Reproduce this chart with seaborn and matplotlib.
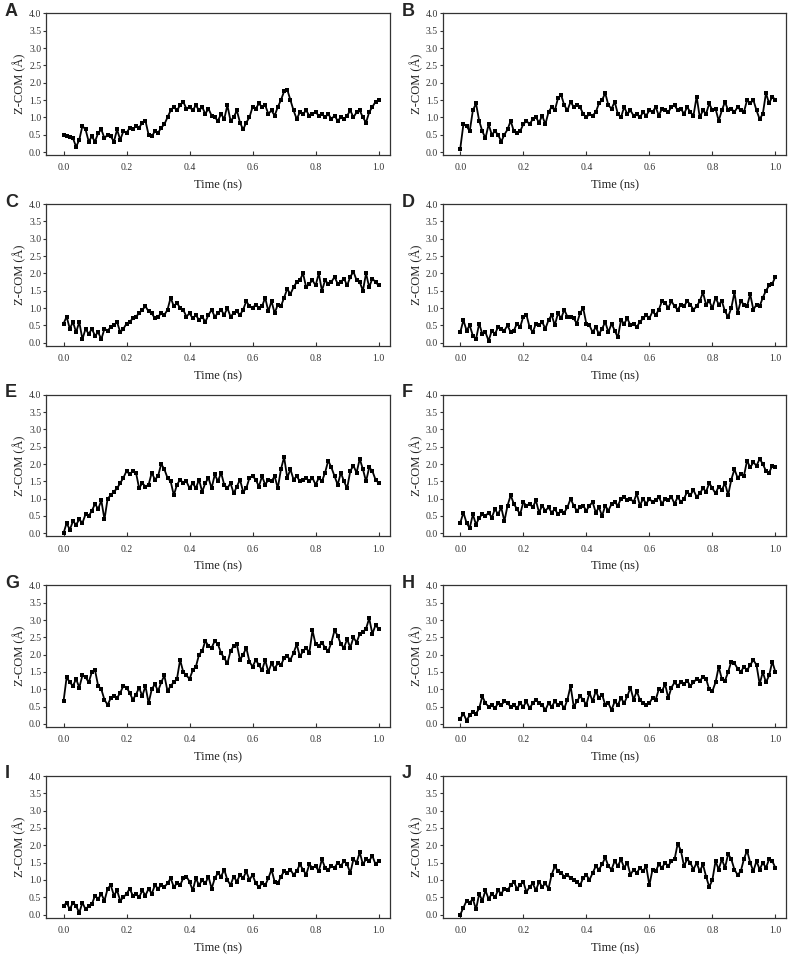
import numpy as np
import pandas as pd
import seaborn as sns
import matplotlib.pyplot as plt

# time grid (ns), one reading every 0.01 ns
time_ns = np.round(np.arange(101) * 0.01, 2)

# Z-COM values (Angstrom)
zcom_a = [0.5, 0.45, 0.42, 0.4, 0.15, 0.35, 0.75, 0.65, 0.3, 0.45,
          0.3, 0.55, 0.65, 0.4, 0.5, 0.45, 0.3, 0.65, 0.35, 0.6,
          0.55, 0.7, 0.65, 0.75, 0.7, 0.85, 0.9, 0.5, 0.45, 0.6,
          0.55, 0.7, 0.8, 1.0, 1.2, 1.3, 1.2, 1.35, 1.45, 1.25,
          1.3, 1.2, 1.35, 1.2, 1.3, 1.1, 1.25, 1.05, 1.0, 0.9,
          1.1, 0.95, 1.35, 0.9, 1.0, 1.2, 0.85, 0.65, 0.85, 1.0,
          1.3, 1.25, 1.4, 1.3, 1.35, 1.1, 1.2, 1.05, 1.3, 1.5,
          1.75, 1.8, 1.5, 1.2, 0.95, 1.15, 1.1, 1.2, 1.05, 1.1,
          1.15, 1.05, 1.1, 1.0, 1.1, 0.95, 1.05, 0.9, 1.0, 0.95,
          1.05, 1.2, 1.0, 1.15, 1.2, 1.0, 0.85, 1.15, 1.3, 1.45, 1.5]
zcom_b = [0.1, 0.8, 0.75, 0.6, 1.2, 1.4, 0.9, 0.6, 0.4, 0.8,
          0.5, 0.6, 0.5, 0.3, 0.5, 0.65, 0.9, 0.6, 0.55, 0.6,
          0.8, 0.9, 0.8, 0.95, 1.0, 0.85, 1.05, 0.8, 1.15, 1.3,
          1.2, 1.55, 1.65, 1.35, 1.2, 1.45, 1.3, 1.35, 1.3, 1.1,
          1.0, 1.1, 1.05, 1.15, 1.4, 1.5, 1.7, 1.35, 1.25, 1.45,
          1.1, 1.0, 1.3, 1.1, 1.2, 1.05, 1.1, 1.0, 1.15, 1.05,
          1.2, 1.15, 1.3, 1.05, 1.25, 1.2, 1.15, 1.3, 1.35, 1.2,
          1.25, 1.1, 1.3, 1.15, 1.05, 1.6, 1.0, 1.2, 1.1, 1.4,
          1.2, 1.25, 0.9, 1.2, 1.45, 1.2, 1.25, 1.15, 1.3, 1.2,
          1.15, 1.5, 1.4, 1.5, 1.2, 0.95, 1.1, 1.7, 1.4, 1.6, 1.5]
zcom_c = [0.55, 0.75, 0.4, 0.6, 0.3, 0.6, 0.1, 0.4, 0.25, 0.4,
          0.2, 0.3, 0.1, 0.4, 0.35, 0.45, 0.5, 0.6, 0.3, 0.4,
          0.55, 0.6, 0.7, 0.75, 0.85, 0.95, 1.05, 0.9, 0.85, 0.7,
          0.75, 0.85, 0.8, 0.95, 1.3, 1.05, 1.15, 1.0, 0.95, 0.75,
          0.85, 0.7, 0.8, 0.65, 0.75, 0.6, 0.8, 0.95, 0.75, 0.85,
          0.95, 0.8, 1.0, 0.75, 0.85, 0.9, 0.8, 0.95, 1.2, 1.05,
          1.0, 1.1, 1.0, 1.05, 1.3, 0.9, 1.2, 0.85, 1.1, 1.05,
          1.3, 1.55, 1.4, 1.6, 1.75, 1.8, 2.0, 1.6, 1.7, 1.8,
          1.65, 2.0, 1.5, 1.8, 1.7, 1.75, 1.9, 1.7, 1.75, 1.85,
          1.65, 1.9, 2.05, 1.8, 1.75, 1.5, 2.0, 1.6, 1.85, 1.75, 1.65]
zcom_d = [0.3, 0.65, 0.35, 0.5, 0.2, 0.1, 0.55, 0.25, 0.3, 0.05,
          0.35, 0.25, 0.45, 0.4, 0.35, 0.5, 0.3, 0.35, 0.55, 0.45,
          0.75, 0.8, 0.45, 0.3, 0.55, 0.5, 0.6, 0.4, 0.65, 0.8,
          0.5, 0.85, 0.7, 0.95, 0.75, 0.75, 0.7, 0.55, 0.85, 1.0,
          0.55, 0.5, 0.3, 0.45, 0.25, 0.4, 0.6, 0.3, 0.55, 0.35,
          0.15, 0.65, 0.55, 0.7, 0.5, 0.55, 0.45, 0.6, 0.7, 0.8,
          0.7, 0.9, 0.8, 0.95, 1.2, 1.15, 1.0, 1.2, 1.05, 0.95,
          1.1, 1.05, 1.2, 1.1, 0.95, 1.05, 1.2, 1.45, 1.1, 1.2,
          1.0, 1.3, 1.1, 1.2, 0.9, 0.75, 1.0, 1.45, 0.85, 1.2,
          1.1, 1.05, 1.4, 0.95, 1.1, 1.05, 1.3, 1.5, 1.65, 1.7, 1.9]
zcom_e = [0.0, 0.3, 0.1, 0.35, 0.25, 0.4, 0.3, 0.55, 0.5, 0.65,
          0.85, 0.7, 0.95, 0.4, 1.0, 1.1, 1.2, 1.3, 1.45, 1.6,
          1.8, 1.7, 1.8, 1.75, 1.3, 1.45, 1.35, 1.4, 1.75, 1.55,
          1.65, 2.0, 1.85, 1.6, 1.5, 1.1, 1.4, 1.55, 1.45, 1.5,
          1.3, 1.45, 1.3, 1.55, 1.2, 1.45, 1.6, 1.3, 1.7, 1.5,
          1.75, 1.4, 1.3, 1.45, 1.15, 1.35, 1.55, 1.2, 1.3, 1.6,
          1.65, 1.55, 1.35, 1.65, 1.4, 1.55, 1.5, 1.65, 1.3, 1.85,
          2.2, 1.6, 1.85, 1.55, 1.65, 1.5, 1.55, 1.6, 1.5, 1.6,
          1.4, 1.6, 1.5, 1.75, 2.1, 1.9, 1.65, 1.4, 1.75, 1.5,
          1.3, 1.8, 1.95, 1.75, 2.15, 1.85, 1.5, 1.9, 1.8, 1.55, 1.45]
zcom_f = [0.3, 0.6, 0.3, 0.15, 0.55, 0.25, 0.45, 0.55, 0.5, 0.6,
          0.45, 0.7, 0.55, 0.75, 0.35, 0.8, 1.1, 0.85, 0.7, 0.55,
          0.9, 0.8, 0.85, 0.75, 0.95, 0.6, 0.8, 0.65, 0.75, 0.6,
          0.7, 0.55, 0.65, 0.6, 0.75, 1.0, 0.8, 0.65, 0.75, 0.8,
          0.65, 0.8, 0.9, 0.6, 0.75, 0.5, 0.8, 0.65, 0.85, 0.9,
          0.8, 1.0, 1.05, 0.95, 1.0, 0.9, 1.15, 0.8, 1.0, 0.85,
          1.0, 0.9, 0.95, 1.05, 0.85, 1.0, 0.95, 1.05, 0.85, 1.05,
          0.9, 1.0, 1.2, 1.1, 1.25, 1.05, 1.15, 1.3, 1.2, 1.45,
          1.3, 1.15, 1.35, 1.25, 1.45, 1.1, 1.55, 1.85, 1.6, 1.7,
          1.65, 2.1, 1.9, 2.05, 1.95, 2.15, 2.0, 1.8, 1.75, 1.95, 1.9]
zcom_g = [0.65, 1.35, 1.2, 1.1, 1.3, 1.05, 1.4, 1.35, 1.2, 1.5,
          1.55, 1.1, 1.0, 0.7, 0.55, 0.75, 0.8, 0.75, 0.9, 1.1,
          1.05, 0.9, 0.7, 0.85, 1.05, 0.8, 1.1, 0.6, 1.0, 1.15,
          0.95, 1.2, 1.4, 0.95, 1.1, 1.2, 1.3, 1.85, 1.5, 1.4,
          1.3, 1.55, 1.65, 2.0, 2.1, 2.4, 2.25, 2.2, 2.4, 2.3,
          2.05, 1.9, 1.75, 2.1, 2.25, 2.3, 1.85, 2.0, 2.2, 1.8,
          1.65, 1.85, 1.7, 1.55, 1.85, 1.5, 1.75, 1.6, 1.75, 1.7,
          1.9, 1.95, 1.85, 2.05, 2.3, 1.95, 2.1, 2.2, 2.05, 2.7,
          2.3, 2.25, 2.35, 2.2, 2.1, 2.35, 2.7, 2.55, 2.3, 2.2,
          2.45, 2.2, 2.5, 2.35, 2.6, 2.65, 2.75, 3.05, 2.6, 2.85, 2.75]
zcom_h = [0.15, 0.3, 0.1, 0.25, 0.35, 0.3, 0.45, 0.8, 0.6, 0.5,
          0.55, 0.45, 0.6, 0.55, 0.65, 0.6, 0.5, 0.55, 0.45, 0.6,
          0.5, 0.65, 0.45, 0.6, 0.7, 0.6, 0.55, 0.4, 0.6, 0.5,
          0.65, 0.55, 0.6, 0.45, 0.7, 1.1, 0.5, 0.65, 0.8, 0.7,
          0.55, 0.9, 0.65, 0.95, 0.75, 0.85, 0.55, 0.6, 0.4, 0.65,
          0.55, 0.75, 0.6, 0.8, 1.05, 0.7, 0.95, 0.7, 0.6, 0.55,
          0.6, 0.75, 0.7, 1.0, 0.95, 1.15, 0.75, 1.05, 1.2, 1.1,
          1.2, 1.15, 1.25, 1.1, 1.2, 1.3, 1.25, 1.35, 1.3, 1.0,
          0.95, 1.2, 1.65, 1.3, 1.25, 1.5, 1.8, 1.75, 1.6, 1.5,
          1.65, 1.55, 1.7, 1.85, 1.7, 1.15, 1.5, 1.2, 1.4, 1.8, 1.5]
zcom_i = [0.25, 0.35, 0.15, 0.35, 0.25, 0.05, 0.35, 0.15, 0.25, 0.3,
          0.55, 0.45, 0.6, 0.4, 0.75, 0.85, 0.55, 0.7, 0.4, 0.5,
          0.6, 0.75, 0.55, 0.6, 0.5, 0.7, 0.55, 0.75, 0.6, 0.85,
          0.75, 0.85, 0.8, 0.9, 1.05, 0.8, 0.9, 0.85, 1.05, 1.1,
          0.95, 0.7, 1.05, 0.85, 1.0, 0.9, 1.1, 0.75, 1.05, 1.2,
          1.1, 1.3, 1.0, 0.85, 1.1, 0.95, 1.15, 1.05, 1.25, 1.0,
          1.15, 0.9, 0.8, 0.9, 0.85, 1.05, 1.3, 0.95, 0.9, 1.1,
          1.25, 1.2, 1.3, 1.15, 1.25, 1.45, 1.3, 1.15, 1.45, 1.35,
          1.4, 1.25, 1.6, 1.35, 1.3, 1.4, 1.35, 1.5, 1.4, 1.55,
          1.45, 1.2, 1.6, 1.5, 1.8, 1.45, 1.6, 1.55, 1.7, 1.45, 1.55]
zcom_j = [0.0, 0.2, 0.4, 0.35, 0.45, 0.15, 0.6, 0.4, 0.7, 0.45,
          0.6, 0.5, 0.7, 0.6, 0.75, 0.7, 0.85, 0.95, 0.75, 0.85,
          0.95, 0.65, 0.8, 0.9, 0.7, 0.95, 0.8, 0.9, 0.75, 1.15,
          1.4, 1.25, 1.2, 1.1, 1.15, 1.05, 1.0, 0.95, 0.85, 1.05,
          1.15, 1.0, 1.2, 1.4, 1.3, 1.45, 1.65, 1.4, 1.3, 1.55,
          1.4, 1.6, 1.35, 1.5, 1.15, 1.3, 1.2, 1.35, 1.25, 1.4,
          0.85, 1.3, 1.25, 1.45, 1.35, 1.5, 1.4, 1.55, 1.6, 2.05,
          1.85, 1.4, 1.6, 1.5, 1.3, 1.5, 1.25, 1.45, 1.1, 0.8,
          1.0, 1.55, 1.3, 1.6, 1.35, 1.75, 1.6, 1.3, 1.15, 1.25,
          1.6, 1.85, 1.5, 1.25, 1.55, 1.3, 1.5, 1.35, 1.6, 1.55, 1.35]

panel_letters = ["A", "B", "C", "D", "E", "F", "G", "H", "I", "J"]
panel_series = [zcom_a, zcom_b, zcom_c, zcom_d, zcom_e,
                zcom_f, zcom_g, zcom_h, zcom_i, zcom_j]
y_ticks = [0.0, 0.5, 1.0, 1.5, 2.0, 2.5, 3.0, 3.5, 4.0]
x_ticks = [0.0, 0.2, 0.4, 0.6, 0.8, 1.0]

sns.set_style("ticks")
plt.rcParams['font.family'] = ['Liberation Serif', 'DejaVu Serif']

fig, axes = plt.subplots(5, 2, figsize=(7.96, 9.56), dpi=100)
fig.subplots_adjust(left=0.058, right=0.988, top=0.986, bottom=0.040,
                    wspace=0.155, hspace=0.345)

for i, ax in enumerate(axes.flat):
    df = pd.DataFrame({'time': time_ns, 'zcom': panel_series[i]})
    sns.lineplot(data=df, x='time', y='zcom', ax=ax, color='black',
                 linewidth=1.3, marker='s', markersize=3.2,
                 markeredgewidth=0, estimator=None)
    ax.set_xlim(-0.055, 1.035)
    ax.set_ylim(-0.09, 4.0)
    ax.set_xticks(x_ticks)
    ax.set_yticks(y_ticks)
    ax.set_xticklabels([f"{v:.1f}" for v in x_ticks])
    ax.set_yticklabels([f"{v:.1f}" for v in y_ticks])
    ax.tick_params(axis='x', direction='in', length=3, width=0.8,
                   labelsize=7, colors='#333333', pad=6)
    ax.tick_params(axis='y', direction='out', length=2, width=0.8,
                   labelsize=7, colors='#333333', pad=1.5)
    for sp in ax.spines.values():
        sp.set_color('#333333')
        sp.set_linewidth(0.9)
    ax.set_xlabel("Time (ns)", fontsize=9, color='#222222', labelpad=5)
    ax.set_ylabel("Z-COM (Å)", fontsize=9, color='#222222', labelpad=2)

    # panel letter at the top left corner of each panel
    pos = ax.get_position()
    fig.text(pos.x0 - 0.052, pos.y1 + 0.011, panel_letters[i],
             fontsize=13, fontweight='bold', family='Liberation Sans',
             ha='left', va='top')

fig.savefig('out.png', dpi=100)
